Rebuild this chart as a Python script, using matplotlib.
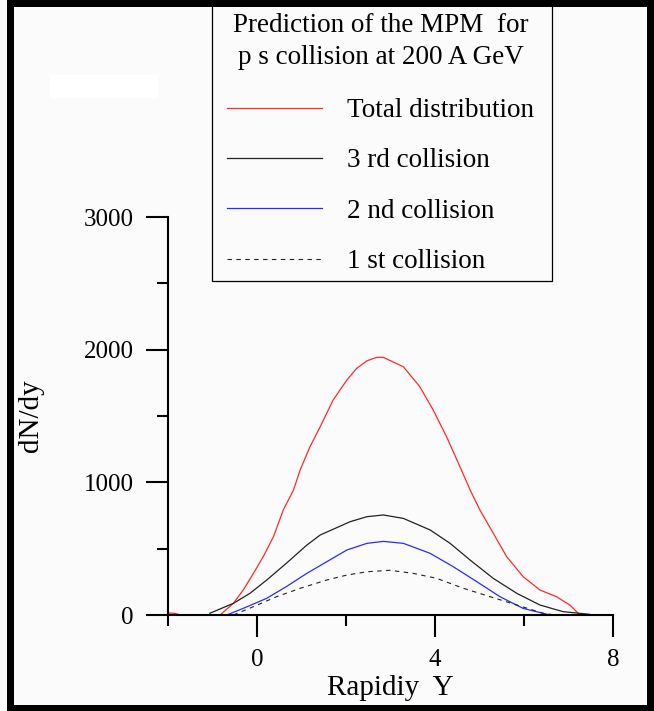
import matplotlib
matplotlib.use("Agg")
import matplotlib.pyplot as plt
from matplotlib.patches import Rectangle
from matplotlib.ticker import MultipleLocator

plt.rcParams['font.family'] = ['Liberation Serif', 'DejaVu Serif']

# rapidity / dN/dy values
total_y = [-2.0, -1.85, -1.7, -0.83, -0.53, -0.31, -0.08, 0.14, 0.37, 0.59, 0.82, 0.97,
           1.19, 1.42, 1.71, 2.02, 2.24, 2.47, 2.69, 2.84, 3.29, 3.66, 3.96, 4.26,
           4.56, 4.79, 5.01, 5.31, 5.61, 5.98, 6.36, 6.73, 7.03, 7.26]
total_n = [15, 12, 0, 0, 88, 188, 314, 440, 590, 791, 942, 1093,
           1268, 1419, 1620, 1771, 1859, 1916, 1942, 1942, 1871, 1720, 1545, 1344,
           1118, 942, 791, 616, 440, 289, 188, 138, 75, 0]

third_y = [-1.06, -0.53, -0.16, 0.22, 0.66, 1.12, 1.42, 1.71, 2.09, 2.47, 2.84,
           3.29, 3.89, 4.34, 4.79, 5.31, 5.84, 6.36, 6.88, 7.48]
third_n = [13, 88, 163, 264, 390, 527, 603, 646, 703, 741, 754,
           728, 641, 540, 414, 276, 163, 75, 25, 5]

second_y = [-0.68, -0.31, 0.22, 0.66, 1.12, 1.57, 2.02, 2.47, 2.84,
            3.29, 3.89, 4.41, 4.94, 5.46, 5.98, 6.58]
second_n = [0, 50, 126, 214, 314, 402, 490, 540, 555,
            540, 465, 364, 251, 138, 50, 0]

first_y = [-0.53, -0.08, 0.44, 0.97, 1.57, 2.02, 2.47, 2.99,
           3.51, 4.04, 4.64, 5.24, 5.84, 6.43, 6.7]
first_n = [0, 63, 138, 201, 264, 301, 326, 337,
           314, 276, 201, 138, 75, 13, 0]

W, H = 654, 711
fig = plt.figure(figsize=(W / 100, H / 100), dpi=100, facecolor='#fbfbfb')

ax = fig.add_axes([168 / W, 1 - 615 / H, 445 / W, 398 / H])
ax.set_facecolor('none')

l_tot, = ax.plot(total_y, total_n, color='#ff2a2a', lw=0.9)
l_3, = ax.plot(third_y, third_n, color='#222222', lw=0.9)
l_2, = ax.plot(second_y, second_n, color='#2a2aff', lw=0.9)
l_1, = ax.plot(first_y, first_n, color='#222222', lw=0.8, linestyle=(0, (4, 4)))

ax.set_xlim(-2, 8)
ax.set_ylim(0, 3000)
ax.set_xticks([0, 4, 8])
ax.xaxis.set_minor_locator(MultipleLocator(4, offset=2))
ax.set_yticks([0, 1000, 2000, 3000])
ax.yaxis.set_minor_locator(MultipleLocator(500))
ax.tick_params(which='major', direction='out', length=15.5, width=1.5, labelsize=18)
ax.tick_params(which='minor', direction='out', length=8, width=1.5)
ax.tick_params(axis='x', which='major', pad=9)
ax.tick_params(axis='y', which='major', pad=9)
for s in ['top', 'right']:
    ax.spines[s].set_visible(False)
for s in ['left', 'bottom']:
    ax.spines[s].set_linewidth(1.5)

fig.text(390 / W, 1 - 688 / H, 'Rapidiy  Y', fontsize=21, ha='center', va='center')
fig.text(31 / W, 1 - 416 / H, 'dN/dy', fontsize=21, rotation=90, ha='center', va='center')

# legend box with title
fig.add_artist(Rectangle((212 / W, 1 - 281 / H), 340 / W, 281 / H, transform=fig.transFigure,
                         facecolor='none', edgecolor='black', lw=0.9))
fig.text(381 / W, 1 - 25 / H, 'Prediction of the MPM  for', fontsize=19.5, ha='center', va='center')
fig.text(381 / W, 1 - 58 / H, 'p s collision at 200 A GeV', fontsize=19.5, ha='center', va='center')
fig.legend([l_tot, l_3, l_2, l_1],
           ['Total distribution', '3 rd collision', '2 nd collision', '1 st collision'],
           loc='upper left', bbox_to_anchor=(227 / W, 1 - 98 / H), frameon=False,
           fontsize=19.5, handlelength=3.5, handletextpad=0.92, labelspacing=0.94,
           borderpad=0, borderaxespad=0)

# white patch and black frame
fig.add_artist(Rectangle((50 / W, 1 - 98 / H), 108 / W, 23 / H, transform=fig.transFigure,
                         facecolor='white', edgecolor='none'))
frame = [(7, 0, 7, H), (7, H - 7, W - 7, 7), (647, 0, 7, H), (7, 0, W - 7, 6)]
for x0, y0, w, h in frame:
    fig.add_artist(Rectangle((x0 / W, y0 / H), w / W, h / H, transform=fig.transFigure,
                             facecolor='black', edgecolor='none'))

fig.savefig('out.png', dpi=100, facecolor=fig.get_facecolor())
